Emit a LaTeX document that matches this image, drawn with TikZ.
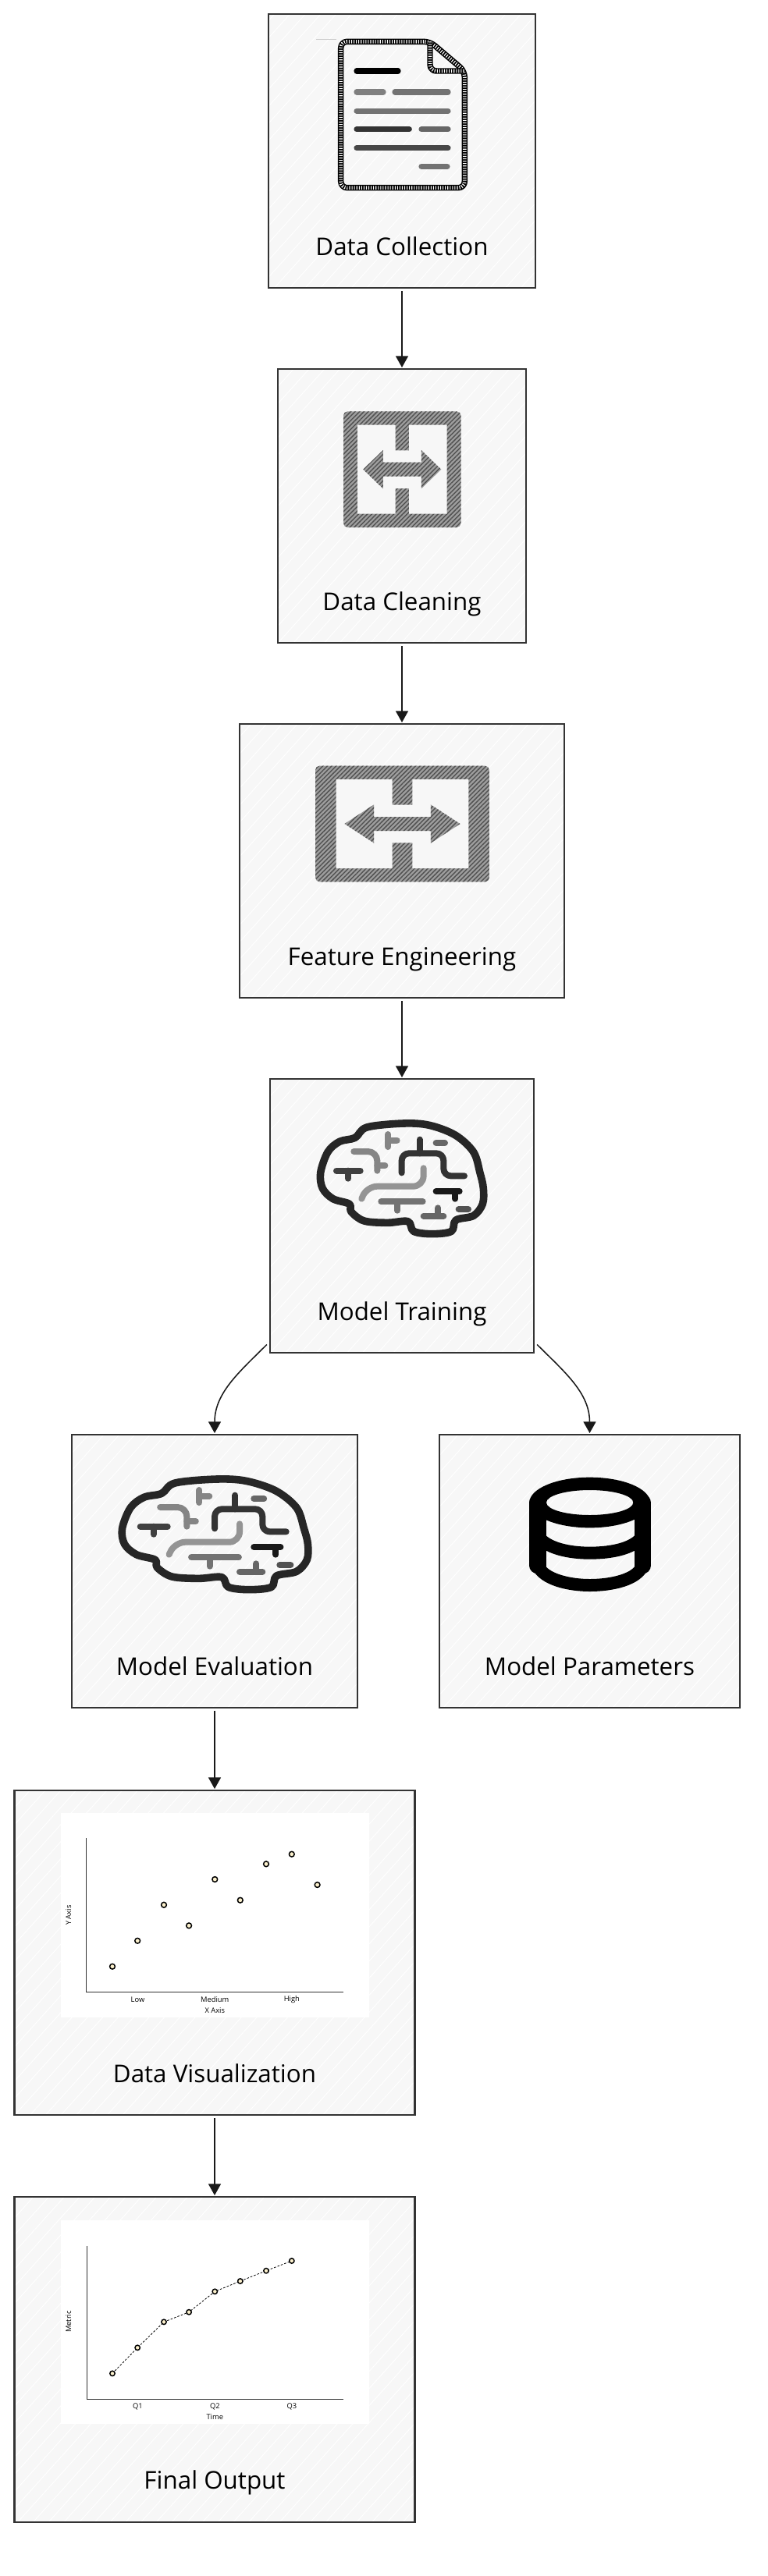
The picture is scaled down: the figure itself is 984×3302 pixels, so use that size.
\documentclass[tikz,border=0pt]{standalone}
\usepackage{fontspec}
\setmainfont{Open Sans}
\usetikzlibrary{positioning,arrows.meta,patterns.meta}
\definecolor{boxline}{HTML}{333333}
\definecolor{boxfill}{HTML}{F7F7F7}
\definecolor{dotfill}{HTML}{FBF0CC}
\tikzset{
stepbox/.style={draw=boxline,line width=1.9pt,outer sep=0pt,inner sep=0pt,minimum height=263.25pt,
  preaction={fill=boxfill},pattern={Lines[angle=48,distance=11pt,line width=.7pt]},pattern color=white},
steplabel/.style={anchor=base,font=\fontsize{23.5}{26}\selectfont,inner sep=0pt},
chartlabel/.style={font=\fontsize{7}{8}\selectfont,inner sep=0pt},
flowarrow/.style={-{Triangle[length=11pt,width=12pt]},line width=1.15pt,draw=black!90,shorten <=3pt,shorten >=1.5pt},
chartaxis/.style={draw=boxline,line width=.8pt},
chartdot/.style={draw=black,line width=1.1pt,fill=dotfill},
hatchfill/.style={preaction={fill=black!38},pattern={Lines[angle=45,distance=3pt,line width=1.1pt]},pattern color=black!68},
hatchstroke/.style={draw=black,line width=5.6pt,line join=round,rounded corners=6pt,
  postaction={draw=white,line width=3.4pt,dash pattern=on .8pt off 1.5pt}},
brainicon/.pic={
  \begin{scope}[scale=1/3,line cap=round,line join=round,line width=6pt]
  \draw[draw=black!85,line width=7.2pt] plot[smooth cycle,tension=.55] coordinates {(405,235) (450,195) (590,180) (690,187) (790,225) (860,290) (885,370) (898,430) (895,490) (860,535) (792,552) (775,595) (700,605) (630,595) (608,557) (530,562) (440,555) (390,520) (383,490) (320,470) (280,430) (272,370) (300,290) (345,250)};
  \draw[draw=black!48] (532,222) -- (532,270) (532,245) -- (566,245);
  \draw[draw=black!80,rounded corners=7pt] (584,370) -- (584,295) -- (745,295) -- (745,382) -- (825,382);
  \draw[draw=black!80] (653,295) -- (653,242);
  \draw[draw=black!60] (716,255) -- (750,255);
  \draw[draw=black!48,rounded corners=9pt] (400,288) -- (490,288) -- (490,362);
  \draw[draw=black!48] (490,342) -- (520,342);
  \draw[draw=black!75] (333,362) -- (425,362) (378,362) -- (378,392);
  \draw[draw=black!42,rounded corners=10pt] (668,352) -- (668,422) -- (450,422) -- (430,470);
  \draw[draw=black!55] (505,481) -- (665,481) (567,481) -- (567,515);
  \draw[draw=black!90] (716,441) -- (806,441) (790,441) -- (790,470);
  \draw[draw=black!60] (668,536) -- (745,536) (724,536) -- (724,505);
  \draw[draw=black!68] (803,510) -- (840,510);
  \end{scope}
},
swapicon/.pic={
  \path[hatchfill,even odd rule,rounded corners=4pt] (-75.3,-74.3) rectangle (75.3,74.3);
  \fill[boxfill] (-57.3,-57) -- (-8.7,-57) -- (-8.7,-24.3) -- (8.7,-24.3) -- (8.7,-57) -- (57.3,-57) -- (57.3,57) -- (8.7,57) -- (8.7,24.3) -- (-8.7,24.3) -- (-8.7,57) -- (-57.3,57) -- cycle;
  \path[hatchfill] (-50,0) -- (-24.5,-24.7) -- (-24.5,-9) -- (24.5,-9) -- (24.5,-24.7) -- (50,0) -- (24.5,24.7) -- (24.5,9) -- (-24.5,9) -- (-24.5,24.7) -- cycle;
}
}
\begin{document}
\begin{tikzpicture}[x=.75pt,y=-.75pt]
\useasboundingbox (0,0) rectangle (984,3302);
\node[stepbox,minimum width=256.5pt] (collection) at (515,193.5) {};
\node[stepbox,minimum width=238.5pt,below=78pt of collection] (cleaning) {};
\node[stepbox,minimum width=312pt,below=78pt of cleaning] (features) {};
\node[stepbox,minimum width=253.5pt,below=78pt of features] (training) {};
\node[stepbox,minimum width=274.5pt,minimum height=262.5pt] (evaluation) at (275,2014) {};
\node[stepbox,minimum width=288.75pt,minimum height=262.5pt] (parameters) at (755.5,2014) {};
\node[stepbox,minimum width=384.75pt,minimum height=312pt,below=79.5pt of evaluation] (visualization) {};
\node[stepbox,minimum width=384.75pt,minimum height=312.75pt,below=78.75pt of visualization] (output) {};

\node[steplabel] (collectionlabel) at ([yshift=31pt]collection.south) {Data Collection};
\node[steplabel] (cleaninglabel) at ([yshift=31pt]cleaning.south) {Data Cleaning};
\node[steplabel] (featureslabel) at ([yshift=31pt]features.south) {Feature Engineering};
\node[steplabel] (traininglabel) at ([yshift=31pt]training.south) {Model Training};
\node[steplabel] (evaluationlabel) at ([yshift=31pt]evaluation.south) {Model Evaluation};
\node[steplabel] (parameterslabel) at ([yshift=31pt]parameters.south) {Model Parameters};
\node[steplabel] (visualizationlabel) at ([yshift=31.5pt]visualization.south) {Data Visualization};
\node[steplabel] (outputlabel) at ([yshift=32pt]output.south) {Final Output};

\draw[flowarrow] (collection) -- (cleaning);
\draw[flowarrow] (cleaning) -- (features);
\draw[flowarrow] (features) -- (training);
\draw[flowarrow] ([xshift=-1pt,yshift=10pt]training.south west) to[out=225,in=90] (evaluation.north);
\draw[flowarrow] ([xshift=1pt,yshift=10pt]training.south east) to[out=-45,in=90] (parameters.north);
\draw[flowarrow] (evaluation) -- (visualization);
\draw[flowarrow] (visualization) -- (output);

% document
\draw[black!20,line width=.6pt] (405,50) -- (431,50);
\draw[hatchstroke] (551,53.3) -- (436.7,53.3) -- (436.7,240.7) -- (595.3,240.7) -- (595.3,91) -- cycle;
\draw[hatchstroke] (551,53.3) -- (551,91) -- (595.3,91);
\begin{scope}[line width=5.4pt,line cap=round]
\draw[black] (457,91) -- (510,91);
\draw[black!50] (457,118) -- (491,118);
\draw[black!55] (506,118) -- (574,118);
\draw[black!55] (457,142.3) -- (574,142.3);
\draw[black!80] (457,165.7) -- (524.3,165.7);
\draw[black!60] (540,165.7) -- (574,165.7);
\draw[black!72] (457,189.7) -- (574,189.7);
\draw[black!55] (540,213.3) -- (573,213.3);
\end{scope}

\pic at (515.3,601.7) {swapicon};
\pic[xscale=1.48] at (515.5,1056) {swapicon};
\pic at (320,1380) {brainicon};
\pic[xscale=1.14] at (53.2,1836) {brainicon};

% cylinder
\begin{scope}[shift={(550,1830)},scale=1/3,draw=black]
\fill[black,even odd rule] (617,288) ellipse (232 and 97) (617,288) ellipse (167 and 48);
\draw[line width=16pt,line cap=round] (417,288) -- (417,530) (820,288) -- (820,530);
\draw[line width=12pt,line cap=round] (417,530) .. controls (440,585) and (540,606) .. (617,606) .. controls (700,606) and (800,585) .. (820,530);
\draw[line width=12pt] (417,415) .. controls (450,465) and (540,482) .. (617,482) .. controls (700,482) and (790,465) .. (820,415);
\end{scope}

% scatter chart
\fill[white] (77.7,2324) rectangle (472.6,2586);
\draw[chartaxis] (110.5,2356) -- (110.5,2553.3) -- (439.8,2553.3);
\foreach \xpos/\ypos in {144/2520.7,176.2/2487.7,210/2441.7,242.1/2468.3,275.3/2409,307.8/2435.7,341/2389.3,373.8/2376.7,406.6/2416}
  \draw[chartdot] (\xpos,\ypos) circle (3.4);
\node[chartlabel] (lowlabel) at (176.5,2563) {Low};
\node[chartlabel] (mediumlabel) at (275.3,2563) {Medium};
\node[chartlabel] (highlabel) at (373.8,2563) {High};
\node[chartlabel] (xaxislabel) at (275.3,2576.7) {X Axis};
\node[chartlabel,rotate=90] (yaxislabel) at (87.8,2455) {Y Axis};

% line chart
\fill[white] (77.7,2846) rectangle (472.6,3107.3);
\draw[chartaxis] (111.5,2879) -- (111.5,3075) -- (439.8,3075);
\draw[black,line width=.6pt,dash pattern=on 2pt off 1.5pt] plot coordinates {(144,3042.3) (176.2,3009.3) (210,2976.3) (242.1,2963.7) (275.3,2937.3) (307.8,2924) (341,2910.7) (373.8,2898)};
\foreach \xpos/\ypos in {144/3042.3,176.2/3009.3,210/2976.3,242.1/2963.7,275.3/2937.3,307.8/2924,341/2910.7,373.8/2898}
  \draw[chartdot] (\xpos,\ypos) circle (3.2);
\node[chartlabel] (qonelabel) at (176.5,3084.7) {Q1};
\node[chartlabel] (qtwolabel) at (275.3,3084.7) {Q2};
\node[chartlabel] (qthreelabel) at (373.8,3084.7) {Q3};
\node[chartlabel] (timelabel) at (275.3,3097.7) {Time};
\node[chartlabel,rotate=90] (metriclabel) at (87.8,2976) {Metric};
\end{tikzpicture}
\end{document}
